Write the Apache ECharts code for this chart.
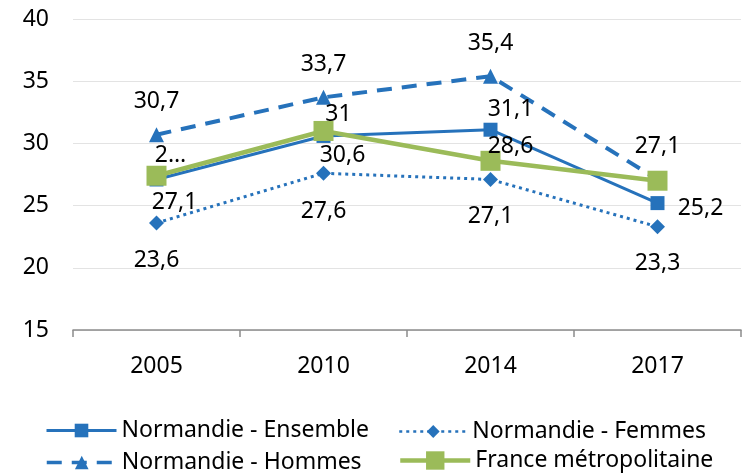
<!DOCTYPE html>
<html>
<head>
<meta charset="utf-8">
<script src="https://cdn.jsdelivr.net/npm/echarts@6/dist/echarts.min.js"></script>
<style>
  html, body { margin: 0; padding: 0; background: #fff; }
  #chart { width: 747px; height: 473px; }
</style>
</head>
<body>
<div id="chart"></div>
<script>
// donnees
var years = ['2005', '2010', '2014', '2017'];
var ensemble = [27.1, 30.6, 31.1, 25.2];
var femmes = [23.6, 27.6, 27.1, 23.3];
var hommes = [30.7, 33.7, 35.4, 27.1];
var france = [27.4, 31, 28.6, 27.0];

var blue = '#2672BB';
var green = '#9BBB59';
var font = 'Noto Sans';

function fmt(v) {
  return String(v).replace('.', ',');
}

// decalage des etiquettes par rapport au point [dx, dy]
function withLabels(values, offsets, hidden) {
  return values.map(function (v, i) {
    return {
      value: v,
      label: {
        show: !(hidden && hidden[i]),
        position: 'inside',
        offset: offsets[i]
      }
    };
  });
}

var labelStyle = {
  color: '#000',
  fontFamily: font,
  fontSize: 23
};

var legendText = { color: '#000', fontSize: 23, fontFamily: font };

var myechart = echarts.init(document.getElementById('chart'));
var config = {
  animation: false,
  textStyle: { fontFamily: font },
  grid: { left: 73, right: 6, top: 19, bottom: 143 },
  xAxis: {
    type: 'category',
    data: years,
    boundaryGap: true,
    axisLine: { lineStyle: { color: '#8c8c8c', width: 1.5 } },
    axisTick: { show: true, length: 7, lineStyle: { color: '#8c8c8c', width: 1.5 } },
    axisLabel: { color: '#000', fontSize: 23, fontFamily: font, margin: 25 },
    splitLine: { show: false }
  },
  yAxis: {
    type: 'value',
    min: 15,
    max: 40,
    interval: 5,
    axisLine: { show: false },
    axisTick: { show: false },
    axisLabel: { color: '#000', fontSize: 23, fontFamily: font, margin: 24 },
    splitLine: { lineStyle: { color: '#e3e3e3', width: 1 } }
  },
  legend: [
    {
      data: ['Normandie - Ensemble'], left: 45, top: 419, padding: 0,
      itemWidth: 70, itemHeight: 17, itemGap: 0, textStyle: legendText,
      lineStyle: { width: 3 }
    },
    {
      data: ['Normandie - Hommes'], left: 45, top: 451, padding: 0,
      itemWidth: 70, itemHeight: 17, itemGap: 0, textStyle: legendText,
      lineStyle: { width: 3.5 }
    },
    {
      data: ['Normandie - Femmes'], left: 398, top: 420, padding: 0,
      itemWidth: 68, itemHeight: 16, itemGap: 0, textStyle: legendText,
      lineStyle: { width: 2.5 }
    },
    {
      data: ['France métropolitaine'], left: 398, top: 449, padding: 0,
      itemWidth: 70, itemHeight: 23, itemGap: 0, textStyle: legendText,
      lineStyle: { width: 4.5 }
    }
  ],
  series: [
    {
      name: 'Normandie - Ensemble',
      type: 'line',
      data: withLabels(ensemble, [[18, 23], [19, 20], [20, -20], [43, 5]]),
      symbol: 'rect',
      symbolSize: 14,
      itemStyle: { color: blue },
      lineStyle: { color: blue, width: 3 },
      label: Object.assign({ formatter: function (p) { return fmt(p.value); } }, labelStyle)
    },
    {
      name: 'Normandie - Femmes',
      type: 'line',
      data: withLabels(femmes, [[0, 37], [0, 38], [0, 37], [0, 37]]),
      symbol: 'diamond',
      symbolSize: 15,
      itemStyle: { color: blue },
      lineStyle: { color: blue, width: 3, type: [3, 4] },
      label: Object.assign({ formatter: function (p) { return fmt(p.value); } }, labelStyle)
    },
    {
      name: 'Normandie - Hommes',
      type: 'line',
      data: withLabels(hommes, [[0, -33], [0, -33], [0, -33], [0, -33]]),
      symbol: 'triangle',
      symbolSize: 15,
      itemStyle: { color: blue },
      lineStyle: { color: blue, width: 4, type: [15, 10] },
      label: Object.assign({ formatter: function (p) { return fmt(p.value); } }, labelStyle)
    },
    {
      name: 'France métropolitaine',
      type: 'line',
      data: withLabels(france, [[14, -20], [15, -17], [20, -14], [0, 0]], [false, false, false, true]),
      symbol: 'rect',
      symbolSize: 20,
      itemStyle: { color: green },
      lineStyle: { color: green, width: 4.5 },
      label: Object.assign({
        formatter: function (p) {
          // etiquette tronquee dans l'original
          return p.dataIndex === 0 ? '2…' : fmt(p.value);
        }
      }, labelStyle)
    }
  ]
};
myechart.setOption(config);
</script>
</body>
</html>
